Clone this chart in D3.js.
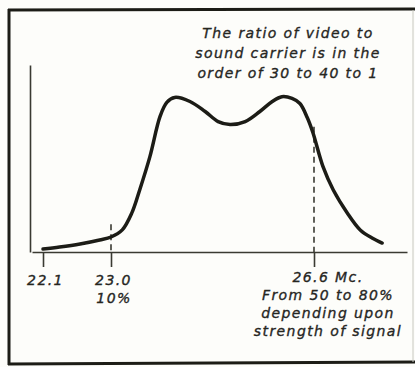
<!DOCTYPE html>
<html>
<head>
<meta charset="utf-8">
<script src="https://cdn.jsdelivr.net/npm/d3@7"></script>
<style>
  body { margin: 0; background: #fdfdfa; }
  svg { display: block; }
  text { font-family: "DejaVu Sans", sans-serif; font-style: italic; fill: #26261f;
         stroke: #26261f; stroke-width: 0.35; letter-spacing: 1.4px; }
  .axis path, .axis line { stroke: #3a3a32; stroke-width: 1.6; }
</style>
</head>
<body>
<script>
var width = 415,
    height = 367;

// Response curve, frequency in Mc vs relative amplitude in %
var freqs    = [22.10, 22.32, 22.59, 22.85, 23.00, 23.20, 23.37, 23.51, 23.69, 23.87, 23.99, 24.13,
                24.40, 24.67, 24.90, 25.11, 25.38, 25.64, 25.86, 26.03, 26.21, 26.35, 26.48, 26.58,
                26.76, 26.94, 27.19, 27.42, 27.63, 27.81];
var response = [1.9, 3.2, 5.2, 7.8, 9.7, 14.3, 25.3, 40.3, 61.7, 87.7, 96.8, 100,
                97.4, 90.9, 84.4, 82.5, 84.4, 90.9, 97.4, 100.5, 99.4, 96.1, 87.0, 77.3,
                55.2, 40.3, 25.3, 14.3, 9.1, 5.8];

var tickValues = [22.1, 23.0, 26.6];
var tickLabels = ["22.1", "23.0", "26.6 Mc."];

var markerFreqs = [23.0, 26.6]; //dashed verticals
var markerTops  = [18, 81];     //where each dashed line starts (in %)

var titleLines = ["The ratio of video to", "sound carrier is in the", "order of 30 to 40 to 1"];
var lowNote    = ["10%"];
var highNote   = ["From 50 to 80%", "depending upon", "strength of signal"];

// The drawing is not to scale, so the x scale is piecewise
var x = d3.scaleLinear()
    .domain([21.95, 22.1, 23.0, 26.6, 28.25])
    .range([32, 43, 111, 314, 407]);

var y = d3.scaleLinear()
    .domain([0, 121])
    .range([252, 65]);

var svg = d3.select("body").append("svg")
    .attr("width", width)
    .attr("height", height);

// Outer frame
var frame = svg.append("g").attr("stroke", "#1c1c16").attr("stroke-width", 3);
frame.append("line").attr("x1", 9).attr("y1", 9).attr("x2", 9).attr("y2", 365);
frame.append("line").attr("x1", 8).attr("y1", 10).attr("x2", 415).attr("y2", 9);
frame.append("line").attr("x1", 8).attr("y1", 364).attr("x2", 415).attr("y2", 362);
svg.append("line").attr("x1", 413).attr("y1", 10).attr("x2", 413).attr("y2", 362)
    .attr("stroke", "#c8c8c0").attr("stroke-width", 1);

// Axes
var xAxis = d3.axisBottom(x)
    .tickValues(tickValues)
    .tickSize(15)
    .tickSizeOuter(0)
    .tickFormat(function (d, i) { return tickLabels[i]; });

var gx = svg.append("g")
    .attr("class", "axis x")
    .attr("transform", "translate(0," + y(0) + ")")
    .call(xAxis);

gx.selectAll(".tick text")
    .attr("fill", null)
    .attr("font-family", null)
    .attr("font-size", 14)
    .attr("dy", null)
    .attr("y", function (d, i) { return i === 2 ? 30 : 33; })
    .attr("text-anchor", function (d, i) { return i === 2 ? "start" : "middle"; })
    .attr("x", function (d, i) { return i === 2 ? -22 : 2; });

var yAxis = d3.axisLeft(y)
    .tickValues([])
    .tickSizeOuter(0);

svg.append("g")
    .attr("class", "axis y")
    .attr("transform", "translate(30,0)")
    .call(yAxis);

// Dashed marker lines
svg.selectAll(".marker")
    .data(markerFreqs)
    .enter().append("line")
    .attr("class", "marker")
    .attr("x1", function (d) { return x(d); })
    .attr("x2", function (d) { return x(d); })
    .attr("y1", function (d, i) { return y(markerTops[i]); })
    .attr("y2", y(0))
    .attr("stroke", "#3a3a32")
    .attr("stroke-width", 1.6)
    .attr("stroke-dasharray", "6,4");

// Response curve
var line = d3.line()
    .x(function (d) { return x(d[0]); })
    .y(function (d) { return y(d[1]); })
    .curve(d3.curveCatmullRom);

svg.append("path")
    .datum(d3.zip(freqs, response))
    .attr("d", line)
    .attr("fill", "none")
    .attr("stroke", "#1c1c16")
    .attr("stroke-width", 3.5)
    .attr("stroke-linecap", "round");

// Notes
svg.append("g")
    .selectAll("text")
    .data(titleLines)
    .enter().append("text")
    .attr("x", 288)
    .attr("y", function (d, i) { return 38 + i * 20; })
    .attr("text-anchor", "middle")
    .attr("font-size", 14)
    .text(function (d) { return d; });

svg.append("g")
    .selectAll("text")
    .data(lowNote)
    .enter().append("text")
    .attr("x", x(23.0) + 3)
    .attr("y", 303)
    .attr("text-anchor", "middle")
    .attr("font-size", 14)
    .text(function (d) { return d; });

svg.append("g")
    .selectAll("text")
    .data(highNote)
    .enter().append("text")
    .attr("x", 328)
    .attr("y", function (d, i) { return 300 + i * 18; })
    .attr("text-anchor", "middle")
    .attr("font-size", 14)
    .text(function (d) { return d; });
</script>
</body>
</html>
